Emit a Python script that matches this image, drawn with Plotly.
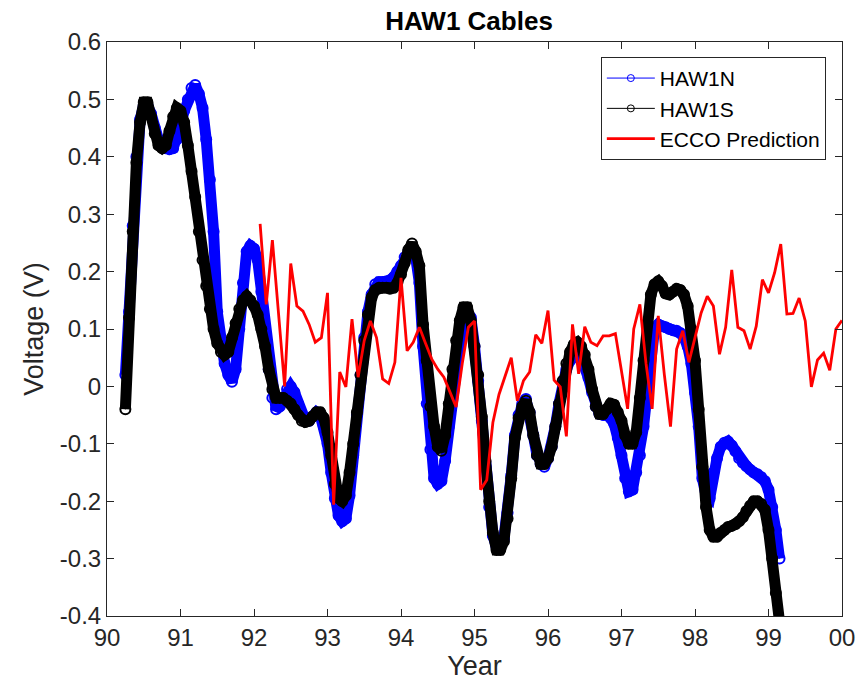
import plotly.graph_objects as go

# ---------------- data ----------------
obs_start = 90.25
obs_step = 0.05

haw1n = [
    0.02, 0.13, 0.28, 0.40, 0.465, 0.49, 0.49, 0.475, 0.45, 0.43, 0.42, 0.415, 0.413, 0.415, 0.43, 0.455, 0.48, 0.5, 0.52, 0.525,
    0.51, 0.485, 0.43, 0.36, 0.27, 0.13, 0.07, 0.04, 0.02, 0.008, 0.03, 0.1, 0.18, 0.235, 0.245, 0.24, 0.22, 0.165, 0.1, 0.03,
    -0.02, -0.04, -0.035, -0.02, -0.005, 0.0, -0.01, -0.03, -0.05, -0.06, -0.06, -0.052, -0.045, -0.05, -0.07, -0.1, -0.15, -0.195, -0.225, -0.235,
    -0.23, -0.19, -0.12, -0.05, 0.02, 0.085, 0.13, 0.16, 0.178, 0.182, 0.182, 0.182, 0.185, 0.19, 0.2, 0.21, 0.225, 0.235, 0.24, 0.225,
    0.18, 0.07, -0.03, -0.11, -0.16, -0.17, -0.165, -0.13, -0.07, -0.01, 0.05, 0.095, 0.125, 0.13, 0.12, 0.07, 0.01, -0.06, -0.14, -0.21,
    -0.26, -0.28, -0.28, -0.265, -0.22, -0.155, -0.085, -0.05, -0.03, -0.022, -0.045, -0.085, -0.12, -0.135, -0.14, -0.125, -0.105, -0.07, -0.03, 0.005,
    0.03, 0.045, 0.055, 0.057, 0.05, 0.035, 0.015, -0.01, -0.035, -0.048, -0.05, -0.05, -0.055, -0.065, -0.09, -0.12, -0.16, -0.183, -0.18, -0.15,
    -0.12, -0.07, -0.01, 0.06, 0.1, 0.108, 0.105, 0.103, 0.1, 0.098, 0.097, 0.093, 0.085, 0.07, 0.04, -0.01, -0.07, -0.16, -0.19, -0.195,
    -0.15, -0.125, -0.105, -0.098, -0.096, -0.103, -0.113, -0.125, -0.133, -0.139, -0.145, -0.15, -0.153, -0.158, -0.165, -0.18, -0.21, -0.25, -0.3,
]

haw1s = [
    -0.04, 0.12, 0.27, 0.39, 0.46, 0.495, 0.495, 0.47, 0.44, 0.42, 0.415, 0.42, 0.445, 0.47, 0.485, 0.48, 0.46, 0.42, 0.375, 0.33,
    0.27, 0.22, 0.175, 0.135, 0.10, 0.075, 0.06, 0.055, 0.06, 0.085, 0.11, 0.135, 0.15, 0.157, 0.15, 0.14, 0.125, 0.1, 0.07, 0.03,
    -0.005, -0.02, -0.02, -0.02, -0.025, -0.03, -0.04, -0.05, -0.06, -0.062, -0.06, -0.052, -0.045, -0.045, -0.055, -0.08, -0.12, -0.17, -0.195, -0.2,
    -0.19, -0.15, -0.1, -0.045, 0.02, 0.08, 0.125, 0.155, 0.168, 0.172, 0.172, 0.172, 0.17, 0.172, 0.18, 0.195, 0.215, 0.238, 0.249, 0.235,
    0.21, 0.108, 0.045, -0.035, -0.07, -0.105, -0.112, -0.085, -0.03, 0.03, 0.08, 0.115, 0.138, 0.138, 0.115, 0.07, 0.02, -0.053, -0.13, -0.2,
    -0.255, -0.285, -0.285, -0.27, -0.23, -0.16, -0.09, -0.055, -0.035, -0.025, -0.045, -0.085, -0.12, -0.135, -0.135, -0.125, -0.105, -0.07, -0.03, 0.01,
    0.04, 0.06, 0.073, 0.077, 0.07, 0.055, 0.03, -0.005, -0.035, -0.048, -0.048, -0.04, -0.03, -0.032, -0.045, -0.06, -0.085, -0.1, -0.1, -0.08,
    -0.02, 0.045, 0.11, 0.16, 0.178, 0.183, 0.175, 0.162, 0.16, 0.165, 0.17, 0.168, 0.16, 0.14, 0.1, 0.045, -0.04, -0.14, -0.21, -0.25,
    -0.262, -0.262, -0.255, -0.25, -0.245, -0.243, -0.24, -0.235, -0.228, -0.217, -0.208, -0.2, -0.2, -0.205, -0.215, -0.25, -0.3, -0.36, -0.41,
]

ecco_start = 92 + 1 / 12
ecco = [
    0.283, 0.143, 0.255, 0.13, 0.0, 0.214, 0.14, 0.131, 0.108, 0.077, 0.085, 0.163,
    -0.206, 0.025, -0.001, 0.117, 0.016, 0.080, 0.114, 0.085, 0.013, 0.005, 0.042, 0.189,
    0.062, 0.077, 0.103, 0.075, 0.048, 0.03, 0.016, -0.01, -0.036, 0.04, 0.103, 0.114,
    -0.18, -0.163, -0.063, -0.014, 0.018, 0.05, -0.025, 0.010, 0.025, 0.09, 0.075, 0.132,
    0.011, -0.001, -0.087, 0.108, 0.022, 0.104, 0.077, 0.071, 0.088, 0.088, 0.092, 0.03,
    -0.039, 0.10, 0.143, 0.04, -0.039, 0.123, 0.02, -0.07, 0.065, 0.097, 0.042, 0.085,
    0.128, 0.157, 0.140, 0.056, 0.103, 0.203, 0.103, 0.097, 0.065, 0.105, 0.186, 0.163,
    0.198, 0.248, 0.126, 0.127, 0.154, 0.114, -0.001, 0.046, 0.058, 0.028, 0.100, 0.115,
]

x_ticks = [90, 91, 92, 93, 94, 95, 96, 97, 98, 99, 100]
x_ticktext = ["90", "91", "92", "93", "94", "95", "96", "97", "98", "99", "00"]
y_ticks = [-0.4, -0.3, -0.2, -0.1, 0, 0.1, 0.2, 0.3, 0.4, 0.5, 0.6]
y_ticktext = ["-0.4", "-0.3", "-0.2", "-0.1", "0", "0.1", "0.2", "0.3", "0.4", "0.5", "0.6"]

years_n = [round(obs_start + obs_step * i, 3) for i in range(len(haw1n))]
years_s = [round(obs_start + obs_step * i, 3) for i in range(len(haw1s))]
years_e = [round(ecco_start + i / 12, 4) for i in range(len(ecco))]

FONT = "Liberation Sans, Arial, Helvetica, sans-serif"
TXT = "#262626"
BLUE = "#0000ff"
BLACK = "#000000"
RED = "#ff0000"

fig = go.Figure()


def add_dense_series(x, y, color, name):
    # thick band (the dense daily circles merge into a solid band in the original)
    fig.add_trace(go.Scatter(x=x, y=y, mode="lines", showlegend=False, hoverinfo="skip",
                             line=dict(color=color, width=11)))
    # open circle markers joined by a thin line
    fig.add_trace(go.Scatter(x=x, y=y, mode="lines+markers", showlegend=False, name=name,
                             line=dict(color=color, width=1),
                             marker=dict(symbol="circle-open", size=10, color=color,
                                         line=dict(width=2, color=color))))
    # legend entry with a small thin circle like the original legend
    fig.add_trace(go.Scatter(x=[None], y=[None], mode="lines+markers", name=name,
                             line=dict(color=color, width=1),
                             marker=dict(symbol="circle-open", size=7, color=color,
                                         line=dict(width=1, color=color))))


add_dense_series(years_n, haw1n, BLUE, "HAW1N")
add_dense_series(years_s, haw1s, BLACK, "HAW1S")
fig.add_trace(go.Scatter(
    x=years_e, y=ecco, name="ECCO Prediction", mode="lines",
    line=dict(color=RED, width=2.8),
))

axis_common = dict(
    showgrid=False, zeroline=False, showline=True, linecolor=TXT, linewidth=1,
    mirror="ticks", ticks="inside", ticklen=7, tickcolor=TXT, tickwidth=1,
    tickfont=dict(family=FONT, size=24, color=TXT),
)

fig.update_layout(
    width=867, height=684,
    margin=dict(l=107, r=25, t=42, b=63),
    paper_bgcolor="white", plot_bgcolor="white",
    font=dict(family=FONT, color=TXT),
    title=dict(text="<b>HAW1 Cables</b>", x=0.541, xanchor="center", y=0.97, yanchor="middle",
               yref="container", font=dict(family=FONT, size=26, color="#000000")),
    xaxis=dict(range=[90, 100], tickvals=x_ticks, ticktext=x_ticktext,
               title=dict(text="Year", font=dict(family=FONT, size=27, color=TXT), standoff=2),
               **axis_common),
    yaxis=dict(range=[-0.4, 0.6], tickvals=y_ticks, ticktext=y_ticktext,
               title=dict(text="Voltage (V)", font=dict(family=FONT, size=27, color=TXT), standoff=8),
               **axis_common),
    legend=dict(x=0.978, xanchor="right", y=0.974, yanchor="top",
                bgcolor="white", bordercolor=TXT, borderwidth=1,
                font=dict(family=FONT, size=21, color="#000000"),
                itemwidth=48, tracegroupgap=0),
    showlegend=True,
)

fig.write_html("out.html")
